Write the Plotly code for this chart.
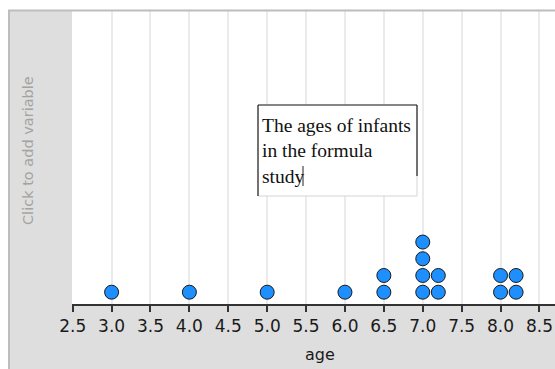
import plotly.graph_objects as go
from collections import Counter

# Data: ages of infants in the formula study (dot plot)
ages = [3.0, 4.0, 5.0, 6.0, 6.5, 6.5, 7.0, 7.0, 7.0, 7.0, 7.2, 7.2, 8.0, 8.0, 8.2, 8.2]
tick_vals = [2.5, 3.0, 3.5, 4.0, 4.5, 5.0, 5.5, 6.0, 6.5, 7.0, 7.5, 8.0, 8.5]
tick_text = ["2.5", "3.0", "3.5", "4.0", "4.5", "5.0", "5.5", "6.0", "6.5", "7.0", "7.5", "8.0", "8.5"]
x_title = "age"
y_placeholder = "Click to add variable"
note_lines = ["The ages of infants", "in the formula", "study"]

# stack dots
seen = Counter()
xs, ys = [], []
for a in ages:
    seen[a] += 1
    xs.append(a)
    ys.append(seen[a])

W, H = 555, 369
L, R, T, B = 72, 0, 11, 369 - 304
pw, ph = W - L - R, H - T - B


def px(x):  # page x -> paper
    return (x - L) / pw


def py(y):  # page y -> paper
    return (H - B - y) / ph


fig = go.Figure()
fig.add_trace(go.Scatter(
    x=xs, y=ys, mode="markers",
    marker=dict(size=14, color="#1e8fff", line=dict(color="#1a1a1a", width=1)),
    hoverinfo="x", showlegend=False, cliponaxis=False,
))

shapes = []
# white strips above and left of the panel
shapes.append(dict(type="rect", xref="paper", yref="paper", x0=px(0), x1=px(W), y0=py(10), y1=py(0),
                   fillcolor="white", line=dict(width=0), layer="below"))
shapes.append(dict(type="rect", xref="paper", yref="paper", x0=px(0), x1=px(8), y0=py(H), y1=py(0),
                   fillcolor="white", line=dict(width=0), layer="below"))
# borders of panel
shapes.append(dict(type="line", xref="paper", yref="paper", x0=px(8), x1=px(W), y0=py(10.5), y1=py(10.5),
                   line=dict(color="#bdbdbd", width=2), layer="above"))
shapes.append(dict(type="line", xref="paper", yref="paper", x0=px(9), x1=px(9), y0=py(10), y1=py(H),
                   line=dict(color="#bdbdbd", width=2), layer="above"))
# text box
bx0, bx1, by0, by1 = 258, 417, 105, 196
shapes.append(dict(type="rect", xref="paper", yref="paper", x0=px(bx0), x1=px(bx1), y0=py(by1), y1=py(by0),
                   fillcolor="white", line=dict(color="#d4d4d4", width=1), layer="above"))
for (ax0, ay0, ax1, ay1) in [(bx0, by0, bx1, by0), (bx0, by0, bx0, by1), (bx1, by0, bx1, by1 - 20)]:
    shapes.append(dict(type="line", xref="paper", yref="paper", x0=px(ax0), x1=px(ax1), y0=py(ay0), y1=py(ay1),
                       line=dict(color="#222222", width=1.2), layer="above"))
# cursor
shapes.append(dict(type="line", xref="paper", yref="paper", x0=px(303), x1=px(303), y0=py(166), y1=py(186),
                   line=dict(color="#222222", width=1), layer="above"))

annotations = []
for i, line in enumerate(note_lines):
    annotations.append(dict(xref="paper", yref="paper", x=px(260), y=py(125.5 + i * 25.3), text=line,
                            showarrow=False, xanchor="left", yanchor="middle",
                            font=dict(family="Liberation Serif, Times New Roman, serif", size=19.5, color="#111111")))
annotations.append(dict(xref="paper", yref="paper", x=px(28), y=py(151), text=y_placeholder, textangle=-90,
                        showarrow=False, xanchor="center", yanchor="middle",
                        font=dict(family="DejaVu Sans, Verdana, sans-serif", size=14.5, color="#a3a3a3")))
annotations.append(dict(xref="paper", yref="paper", x=px(320), y=py(354), text=x_title,
                        showarrow=False, xanchor="center", yanchor="middle",
                        font=dict(family="DejaVu Sans, Verdana, sans-serif", size=16, color="#1a1a1a")))

fig.update_layout(
    width=W, height=H,
    margin=dict(l=L, r=R, t=T, b=B),
    paper_bgcolor="#dedede",
    plot_bgcolor="white",
    shapes=shapes,
    annotations=annotations,
    xaxis=dict(
        range=[2.491, 8.70], tickvals=tick_vals, ticktext=tick_text,
        showgrid=True, gridcolor="#ebebeb", gridwidth=2,
        showline=True, linecolor="#333333", linewidth=2,
        ticks="outside", ticklen=6, tickwidth=2, tickcolor="#333333",
        ticklabeloverflow="allow",
        tickfont=dict(family="DejaVu Sans, Verdana, sans-serif", size=17, color="#1a1a1a"),
        zeroline=False, fixedrange=True,
    ),
    yaxis=dict(range=[5 / 17, 298 / 17 + 5 / 17], visible=False, showgrid=False, zeroline=False, fixedrange=True),
)

fig.write_html("out.html", config={"displayModeBar": False},
               post_script="document.body.style.margin='0';document.body.style.overflow='hidden';")
